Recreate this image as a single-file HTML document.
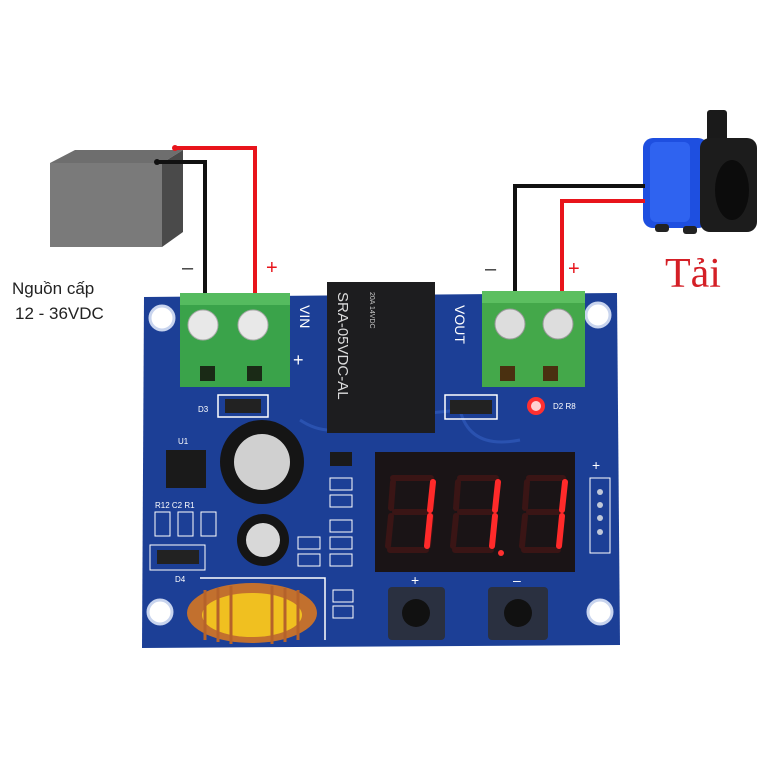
<!DOCTYPE html>
<html><head><meta charset="utf-8"><style>
html,body{margin:0;padding:0;background:#fff;}
svg{display:block;}
</style></head><body>
<svg width="768" height="768" viewBox="0 0 768 768" xmlns="http://www.w3.org/2000/svg">
<rect width="768" height="768" fill="#fff"/>
<!-- battery box -->
<polygon points="50,163 75,150 183,150 162,163" fill="#6e6e6e"/>
<polygon points="162,163 183,150 183,232 162,247" fill="#4a4a4a"/>
<rect x="50" y="163" width="112" height="84" fill="#7a7a7a"/>
<!-- wires left -->
<polyline points="175,148 255,148 255,295" fill="none" stroke="#e8141b" stroke-width="4"/>
<polyline points="157,162 205,162 205,297" fill="none" stroke="#111" stroke-width="4"/>
<circle cx="157" cy="162" r="3" fill="#111"/>
<circle cx="175" cy="148" r="3" fill="#e8141b"/>
<text x="182" y="274" font-family="Liberation Sans, sans-serif" font-size="20" fill="#333">–</text>
<text x="266" y="274" font-family="Liberation Sans, sans-serif" font-size="20" fill="#e8141b">+</text>
<text x="12" y="294" font-family="Liberation Sans, 'Noto Sans CJK SC', sans-serif" font-size="17" fill="#222">Nguồn cấp</text>
<text x="15" y="319" font-family="Liberation Sans, sans-serif" font-size="17" fill="#222">12 - 36VDC</text>
<!-- pump -->
<rect x="707" y="110" width="20" height="34" rx="3" fill="#1a1a1a"/>
<rect x="643" y="138" width="65" height="90" rx="10" fill="#1e4fe0"/>
<rect x="650" y="142" width="40" height="80" rx="6" fill="#2f63f0"/>
<rect x="700" y="138" width="57" height="94" rx="10" fill="#1c1c1c"/>
<ellipse cx="732" cy="190" rx="17" ry="30" fill="#0c0c0c"/>
<rect x="655" y="224" width="14" height="8" rx="3" fill="#222"/>
<rect x="683" y="226" width="14" height="8" rx="3" fill="#222"/>
<!-- wires right -->
<polyline points="645,186 515,186 515,295" fill="none" stroke="#111" stroke-width="4"/>
<polyline points="645,201 562,201 562,295" fill="none" stroke="#e8141b" stroke-width="4"/>
<text x="485" y="275" font-family="Liberation Sans, sans-serif" font-size="20" fill="#333">–</text>
<text x="568" y="275" font-family="Liberation Sans, sans-serif" font-size="20" fill="#e8141b">+</text>
<text x="665" y="287" font-family="Liberation Serif, serif" font-size="42" fill="#d41f26">Tải</text>
<!-- board -->
<polygon points="144,297 617,293 620,645 142,648" fill="#1c3f96"/>
<path d="M300,420 Q330,440 360,420 L460,410 Q470,450 520,440" stroke="#2a52b0" stroke-width="3" fill="none"/>
<!-- mounting holes -->
<g fill="#fff" stroke="#c8d4ee" stroke-width="3">
<circle cx="162" cy="318" r="12"/><circle cx="598" cy="315" r="12"/>
<circle cx="160" cy="612" r="12"/><circle cx="600" cy="612" r="12"/>
</g>
<!-- terminals -->
<rect x="180" y="293" width="110" height="94" fill="#3aa34a"/>
<rect x="180" y="293" width="110" height="12" fill="#55bb5f"/>
<circle cx="203" cy="325" r="15" fill="#e8e8e8" stroke="#aaa"/>
<circle cx="253" cy="325" r="15" fill="#e8e8e8" stroke="#aaa"/>
<rect x="200" y="366" width="15" height="15" fill="#1a2a16"/>
<rect x="247" y="366" width="15" height="15" fill="#1a2a16"/>
<rect x="482" y="291" width="103" height="96" fill="#44a84a"/>
<rect x="482" y="291" width="103" height="12" fill="#5cbf60"/>
<circle cx="510" cy="324" r="15" fill="#ddd" stroke="#999"/>
<circle cx="558" cy="324" r="15" fill="#ddd" stroke="#999"/>
<rect x="500" y="366" width="15" height="15" fill="#4a3010"/>
<rect x="543" y="366" width="15" height="15" fill="#4a3010"/>
<text x="300" y="305" transform="rotate(90 300 305)" font-family="Liberation Sans, sans-serif" font-size="14" fill="#fff">VIN</text>
<text x="455" y="305" transform="rotate(90 455 305)" font-family="Liberation Sans, sans-serif" font-size="14" fill="#fff">VOUT</text>
<text x="293" y="366" font-family="Liberation Sans, sans-serif" font-size="18" fill="#fff">+</text>
<!-- relay -->
<rect x="327" y="282" width="108" height="151" fill="#1d1d1f"/>
<text x="338" y="292" transform="rotate(90 338 292)" font-family="Liberation Sans, sans-serif" font-size="15" fill="#ddd">SRA-05VDC-AL</text>
<text x="370" y="292" transform="rotate(90 370 292)" font-family="Liberation Sans, sans-serif" font-size="7" fill="#ccc">20A 14VDC</text>
<!-- diodes -->
<rect x="218" y="395" width="50" height="22" fill="none" stroke="#fff" stroke-width="1.5"/>
<rect x="225" y="399" width="36" height="14" fill="#222"/>
<rect x="445" y="395" width="52" height="24" fill="none" stroke="#fff" stroke-width="1.5"/>
<rect x="450" y="400" width="42" height="14" fill="#222"/>
<circle cx="536" cy="406" r="9" fill="#ff3030"/>
<circle cx="536" cy="406" r="5" fill="#ffd0d0"/>
<text x="198" y="412" font-family="Liberation Sans, sans-serif" font-size="8" fill="#fff">D3</text>
<text x="553" y="409" font-family="Liberation Sans, sans-serif" font-size="8" fill="#fff">D2 R8</text>
<!-- caps -->
<circle cx="262" cy="462" r="42" fill="#151515"/>
<circle cx="262" cy="462" r="28" fill="#d0d0d0"/>
<circle cx="263" cy="540" r="26" fill="#151515"/>
<circle cx="263" cy="540" r="17" fill="#d8d8d8"/>
<rect x="166" y="450" width="40" height="38" fill="#1a1a1a"/>
<text x="178" y="444" font-family="Liberation Sans, sans-serif" font-size="8" fill="#fff">U1</text>
<text x="155" y="508" font-family="Liberation Sans, sans-serif" font-size="8" fill="#fff">R12 C2  R1</text>
<rect x="155" y="512" width="15" height="24" fill="none" stroke="#fff"/>
<rect x="178" y="512" width="15" height="24" fill="none" stroke="#fff"/>
<rect x="201" y="512" width="15" height="24" fill="none" stroke="#fff"/>
<rect x="150" y="545" width="55" height="25" fill="none" stroke="#fff"/>
<rect x="157" y="550" width="42" height="14" fill="#222"/>
<text x="175" y="582" font-family="Liberation Sans, sans-serif" font-size="8" fill="#fff">D4</text>
<g fill="none" stroke="#fff">
<rect x="330" y="478" width="22" height="12"/><rect x="330" y="495" width="22" height="12"/>
<rect x="330" y="520" width="22" height="12"/><rect x="330" y="537" width="22" height="12"/><rect x="330" y="554" width="22" height="12"/>
<rect x="298" y="537" width="22" height="12"/><rect x="298" y="554" width="22" height="12"/>
<rect x="333" y="590" width="20" height="12"/><rect x="333" y="606" width="20" height="12"/>
<rect x="590" y="478" width="20" height="75"/>
</g>
<rect x="330" y="452" width="22" height="14" fill="#1a1a1a"/>
<!-- display -->
<rect x="375" y="452" width="200" height="120" fill="#1a1416"/>
<g stroke="#ff2a2a" stroke-width="6" stroke-linecap="round" fill="none">
<path d="M393,478 L431,478 M433,482 L431,508 M431,516 L428,546 M393,482 L391,508 M391,516 L388,546 M395,512 L429,512 M390,550 L426,550" stroke="#3a1515"/>
<path d="M433,482 L430,510 M430,516 L427,546"/>
<path d="M458,482 L456,508 M456,516 L453,546 M460,478 L496,478 M460,512 L494,512 M455,550 L491,550" stroke="#3a1515"/>
<path d="M498,482 L495,510 M495,516 L492,546"/>
<path d="M527,482 L525,508 M525,516 L522,546 M529,478 L563,478 M529,512 L561,512 M524,550 L558,550" stroke="#3a1515"/>
<path d="M565,482 L562,510 M562,516 L559,546"/>
</g>
<circle cx="501" cy="553" r="3" fill="#ff3030"/>
<g fill="#c0c8d8"><circle cx="600" cy="492" r="3"/><circle cx="600" cy="505" r="3"/><circle cx="600" cy="518" r="3"/><circle cx="600" cy="532" r="3"/></g>
<text x="592" y="470" font-family="Liberation Sans, sans-serif" font-size="14" fill="#fff">+</text>
<!-- buttons -->
<rect x="388" y="587" width="57" height="53" rx="4" fill="#2a3040"/>
<circle cx="416" cy="613" r="14" fill="#111"/>
<rect x="488" y="587" width="60" height="53" rx="4" fill="#2a3040"/>
<circle cx="518" cy="613" r="14" fill="#111"/>
<text x="411" y="585" font-family="Liberation Sans, sans-serif" font-size="14" fill="#fff">+</text>
<text x="513" y="585" font-family="Liberation Sans, sans-serif" font-size="14" fill="#fff">–</text>
<!-- toroid -->
<rect x="200" y="578" width="120" height="4" fill="none"/>
<polyline points="200,578 325,578 325,640" fill="none" stroke="#fff" stroke-width="1.5"/>
<ellipse cx="252" cy="613" rx="65" ry="30" fill="#c2702e"/>
<ellipse cx="252" cy="615" rx="50" ry="22" fill="#f0c020"/>
<g stroke="#b5622a" stroke-width="3">
<line x1="205" y1="590" x2="205" y2="640"/><line x1="218" y1="588" x2="218" y2="642"/>
<line x1="231" y1="586" x2="231" y2="644"/><line x1="272" y1="586" x2="272" y2="644"/>
<line x1="285" y1="588" x2="285" y2="642"/><line x1="298" y1="590" x2="298" y2="640"/>
</g>
</svg>
</body></html>
